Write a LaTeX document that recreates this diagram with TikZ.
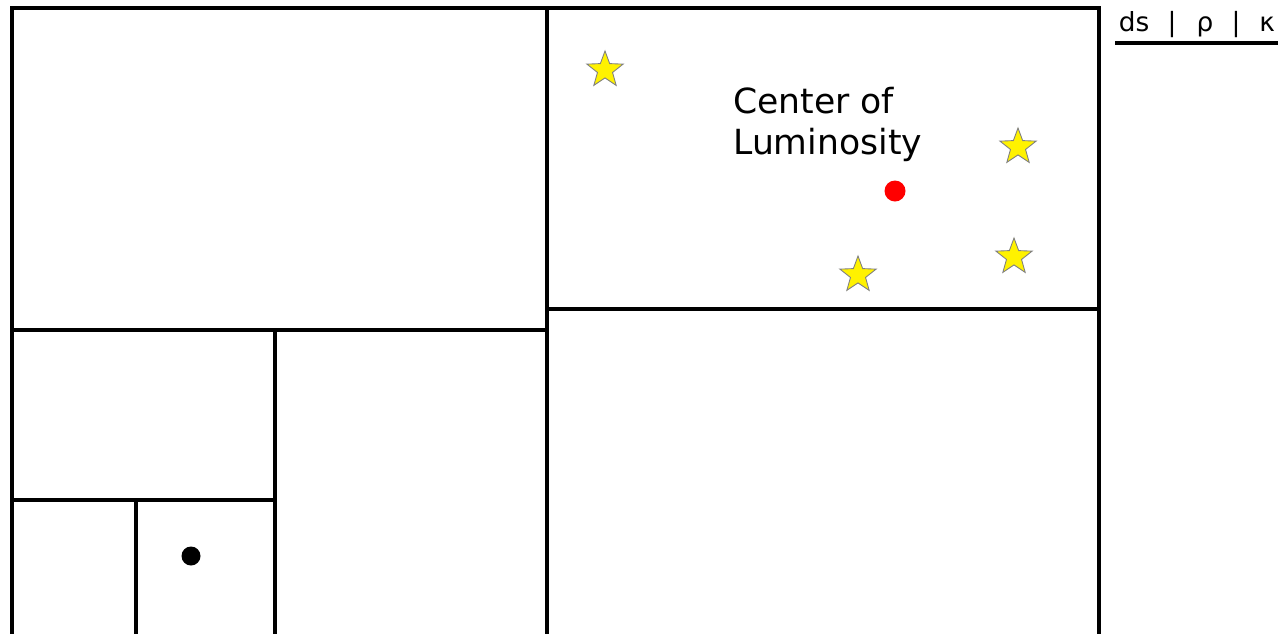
\documentclass[tikz,border=0pt]{standalone}
\usepackage{fontspec}
\setmainfont{DejaVu Sans}
\usetikzlibrary{shapes.geometric}

\tikzset{
	cell/.style={line width=2.7pt, line cap=rect},
	lumstar/.style={star, star points=5, star point ratio=2.4, fill=yellow, draw=gray, line width=0.5pt, minimum size=0.76cm, inner sep=0pt},
	legend/.style={font=\fontsize{15}{17}\selectfont, anchor=base},
}

\begin{document}
\begin{tikzpicture}[x=0.02cm, y=-0.02cm]
	\clip (0,0) rectangle (1280,633);
	\fill[white] (0,0) rectangle (1280,633);
	% quadtree cells
	\draw[cell] (12,640) -- (12,8) -- (1099,8) -- (1099,640);
	\draw[cell] (547,8) -- (547,640);
	\draw[cell] (12,330) -- (547,330);
	\draw[cell] (547,309) -- (1099,309);
	\draw[cell] (275,330) -- (275,640);
	\draw[cell] (12,500) -- (275,500);
	\draw[cell] (136,500) -- (136,640);
	% stars and centre
	\node[lumstar] (s1) at (605,70) {};
	\node[lumstar] (s2) at (1018,147) {};
	\node[lumstar] (s3) at (1014,257) {};
	\node[lumstar] (s4) at (858,275) {};
	\fill[red] (895,191) circle (10.5) coordinate (col);
	\fill[black] (191,556) circle (9.5) coordinate (pt);
	\node[anchor=north west, align=left, inner sep=0pt, font=\fontsize{19.7}{23.5}\selectfont] (lbl) at (733,87) {Center of\\Luminosity};
	% legend
	\node[legend] (ds) at (1134,31) {ds};
	\node[legend] (b1) at (1172,31) {|};
	\node[legend] (rho) at (1205,31) {ρ};
	\node[legend] (b2) at (1236,31) {|};
	\node[legend] (kap) at (1267,31) {κ};
	\draw[line width=1.8pt] (1115,43) -- (1278,43);
\end{tikzpicture}
\end{document}
